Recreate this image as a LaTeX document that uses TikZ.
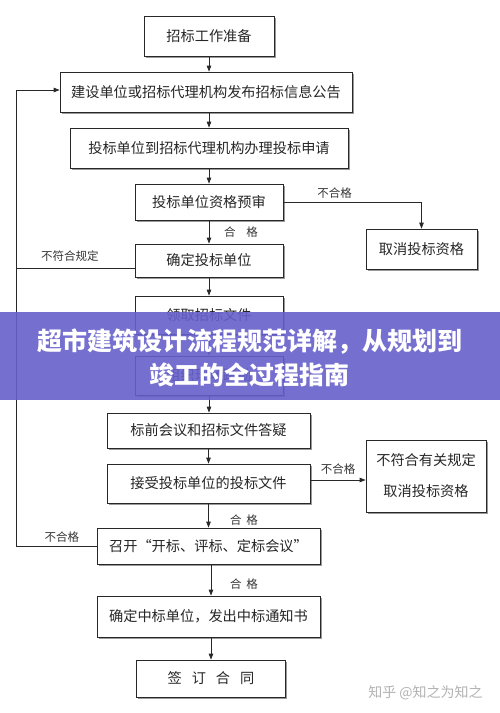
\documentclass[tikz,border=0pt]{standalone}
\usepackage{fontspec}
\setmainfont{Noto Sans CJK SC}
\usetikzlibrary{positioning, arrows.meta, shadows}
\definecolor{bannerblue}{RGB}{102,96,202}
\definecolor{linegray}{RGB}{40,40,40}

\begin{document}
\begin{tikzpicture}[x=1pt, y=-1pt,
    box/.style={draw=linegray, line width=0.8pt, fill=white, inner sep=0pt,
      text=black!85, font=\fontsize{14.2}{16}\selectfont,
      drop shadow={shadow xshift=1.8pt, shadow yshift=-1.8pt, fill=black!40, opacity=1}},
    arr/.style={draw=linegray, line width=0.8pt, -{Triangle[length=6pt, width=4.5pt]}},
    lbl/.style={font=\fontsize{11.5}{13}\selectfont, text=black!80, inner sep=0pt}]
    \useasboundingbox (0,0) rectangle (500,713);

    % main chain
    \node[box, minimum width=130pt, minimum height=40pt] (prep) at (209,36) {招标工作准备};
    \node[box, minimum width=292pt, minimum height=40pt] (notice) at (206,92) {建设单位或招标代理机构发布招标信息公告};
    \node[box, minimum width=278pt, minimum height=40pt] (apply) at (209,148) {投标单位到招标代理机构办理投标申请};
    \node[box, minimum width=148pt, minimum height=36pt] (prequal) at (209,202) {投标单位资格预审};
    \node[box, minimum width=148pt, minimum height=33pt] (confirm) at (209,260.5) {确定投标单位};
    \node[box, minimum width=148pt, minimum height=38pt] (getdoc) at (209,315) {领取招标文件};
    \node[box, minimum width=148pt, minimum height=39pt] (survey) at (209,375.5) {组织现场踏勘};
    \node[box, minimum width=203pt, minimum height=35pt] (meeting) at (208.5,430.5) {标前会议和招标文件答疑};
    \node[box, minimum width=203pt, minimum height=39pt] (receive) at (208.5,483.5) {接受投标单位的投标文件};
    \node[box, minimum width=223pt, minimum height=36pt] (open) at (208.5,546) {召开“开标、评标、定标会议”};
    \node[box, minimum width=223pt, minimum height=41pt] (winner) at (208.5,616.5) {确定中标单位，发出中标通知书};
    \node[box, minimum width=149pt, minimum height=37pt] (sign) at (211,678.5) {签\hspace{10pt}订\hspace{10pt}合\hspace{10pt}同};

    % side boxes
    \node[box, minimum width=111pt, minimum height=40pt] (cancel) at (421.5,249) {取消投标资格};
    \node[box, minimum width=120pt, minimum height=72pt, align=center,
      font=\fontsize{14.2}{31}\selectfont] (reject) at (426,476) {不符合有关规定\\取消投标资格};

    \coordinate (lp) at (16,0);

    % arrows
    \draw[arr] (prep.south) -- (prep.south |- notice.north);
    \draw[arr] (apply.north |- notice.south) -- (apply.north);
    \draw[arr] (apply.south) -- (apply.south |- prequal.north);
    \draw[arr] (prequal.south) -- (confirm.north);
    \draw[arr] (confirm.south) -- (getdoc.north);
    \draw[arr] (getdoc.south) -- (survey.north);
    \draw[arr] (survey.south) -- (survey.south |- meeting.north);
    \draw[arr] (meeting.south) -- (receive.north);
    \draw[arr] (receive.south) -- (open.north);
    \draw[arr] ([xshift=2.5pt]open.south) -- ([xshift=2.5pt]winner.north);
    \draw[arr] ([xshift=2.5pt]winner.south) -- (sign.north);
    \draw[arr] (prequal.east) -| (cancel.north);
    \draw[arr] ([yshift=3.5pt]receive.east) -- ([yshift=3.5pt]receive.east -| reject.west);
    \draw[arr] (open.west) -- (open.west -| lp) |- ([yshift=2pt]notice.west);
    \draw[draw=linegray, line width=0.8pt] ([yshift=-7.5pt]confirm.west) -- ([yshift=-7.5pt]confirm.west -| lp);

    % labels
    \node[lbl] (fail1) at (334.5,193) {不合格};
    \node[lbl] (pass1) at (241,232) {合\hspace{11pt}格};
    \node[lbl] (rule1) at (70,256) {不符合规定};
    \node[lbl] (fail2) at (338,469) {不合格};
    \node[lbl] (pass2) at (244,520) {合\hspace{5pt}格};
    \node[lbl] (fail3) at (62,537) {不合格};
    \node[lbl] (pass3) at (244,584) {合\hspace{5pt}格};

    % watermark
    \node[font=\fontsize{14}{16}\selectfont, text=black!30] (mark) at (425.5,693) {知乎 @知之为知之};

    % banner
    \fill[bannerblue, fill opacity=0.9] (0,312) rectangle (500,400);
    \node[font=\fontsize{25}{34}\selectfont\bfseries, text=white, align=center] (title) at (250,358)
      {超市建筑设计流程规范详解，从规划到\\竣工的全过程指南};
\end{tikzpicture}
\end{document}
